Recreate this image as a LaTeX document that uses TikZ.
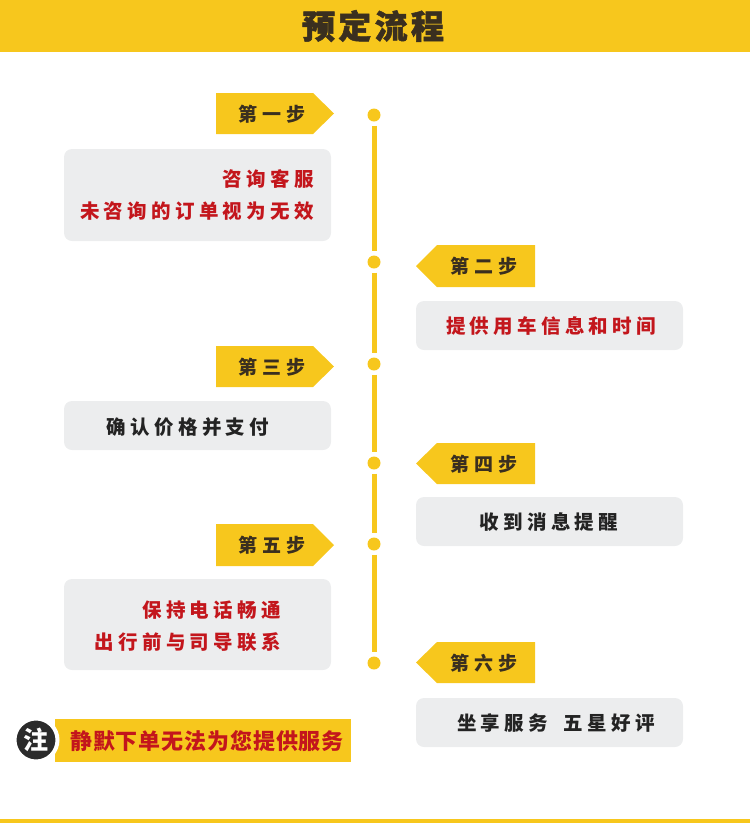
\documentclass[tikz,border=0pt]{standalone}
\usepackage{fontspec}
\setmainfont{Noto Sans CJK SC}
\definecolor{ylw}{HTML}{F7C71D}
\definecolor{tagtxt}{HTML}{3A2F1F}
\definecolor{redtxt}{HTML}{C3161C}
\definecolor{darktxt}{HTML}{232323}
\definecolor{boxgray}{HTML}{ECEDEE}
\definecolor{notedark}{HTML}{2B2B2B}
\tikzset{
  dot/.style={circle,fill=ylw,inner sep=0pt,minimum size=13pt},
  seg/.style={draw=ylw,line width=5pt,shorten <=4pt,shorten >=4pt},
  tagshape/.style={fill=ylw},
  tagtext/.style={inner sep=0pt,text=tagtxt,font=\fontsize{19}{22}\selectfont\bfseries\addfontfeature{LetterSpace=24}},
  infobox/.style={fill=boxgray,rounded corners=8pt,inner sep=0pt},
  redline/.style={inner sep=0pt,text=redtxt,font=\fontsize{19.5}{32}\selectfont\bfseries\addfontfeature{LetterSpace=22}},
  darkline/.style={inner sep=0pt,text=darktxt,font=\fontsize{19.5}{32}\selectfont\bfseries\addfontfeature{LetterSpace=22}},
}
\begin{document}
\begin{tikzpicture}[x=1pt,y=-1pt]
\useasboundingbox (0,0) rectangle (750,823);
% header
\fill[ylw] (0,0) rectangle (750,52);
\node[inner sep=0pt,text=tagtxt,font=\fontsize{33}{36}\selectfont\bfseries\addfontfeature{LetterSpace=10,FakeBold=1.5}] (title) at (373,26) {预定流程};
% bottom rule
\fill[ylw] (0,819) rectangle (750,823);
% timeline dots
\node[dot] (d1) at (374,115) {};
\node[dot] (d2) at (374,262) {};
\node[dot] (d3) at (374,364) {};
\node[dot] (d4) at (374,463) {};
\node[dot] (d5) at (374,544) {};
\node[dot] (d6) at (374,663) {};
\draw[seg] (d1) -- (d2);
\draw[seg] (d2) -- (d3);
\draw[seg] (d3) -- (d4);
\draw[seg] (d4) -- (d5);
\draw[seg] (d5) -- (d6);
% left tags
\fill[tagshape] (216,93) -- (313,93) -- (334,113.5) -- (313,134) -- (216,134) -- cycle;
\node[tagtext] (t1) at (272,114) {第一步};
\fill[tagshape] (216,346) -- (313,346) -- (334,366.5) -- (313,387) -- (216,387) -- cycle;
\node[tagtext] (t3) at (272,367) {第三步};
\fill[tagshape] (216,524) -- (313,524) -- (334,545) -- (313,566) -- (216,566) -- cycle;
\node[tagtext] (t5) at (272,545) {第五步};
% right tags
\fill[tagshape] (535,245) -- (437,245) -- (416,266) -- (437,287) -- (535,287) -- cycle;
\node[tagtext] (t2) at (484,266) {第二步};
\fill[tagshape] (535,443) -- (437,443) -- (416,463.5) -- (437,484) -- (535,484) -- cycle;
\node[tagtext] (t4) at (484,464) {第四步};
\fill[tagshape] (535,642) -- (437,642) -- (416,662.5) -- (437,683) -- (535,683) -- cycle;
\node[tagtext] (t6) at (484,663) {第六步};
% boxes
\fill[infobox] (64,149) rectangle (331,241);
\node[redline,anchor=east,align=right] (x1) at (314,195) {咨询客服\\未咨询的订单视为无效};
\fill[infobox] (416,301) rectangle (683,350);
\node[redline] (x2) at (551,326) {提供用车信息和时间};
\fill[infobox] (64,401) rectangle (331,450);
\node[darkline] (x3) at (188,427) {确认价格并支付};
\fill[infobox] (416,497) rectangle (683,546);
\node[darkline] (x4) at (549,522) {收到消息提醒};
\fill[infobox] (64,579) rectangle (331,670);
\node[redline,anchor=east,align=right] (x5) at (281,626) {保持电话畅通\\出行前与司导联系};
\fill[infobox] (416,698) rectangle (683,747);
\node[darkline] (x6) at (556,723) {坐享服务\hspace{16pt}五星好评};
% note
\fill[ylw] (55,719) rectangle (351,762);
\node[circle,fill=notedark,draw=white,line width=4pt,minimum size=43pt,inner sep=0pt,text=white,font=\fontsize{25}{28}\selectfont\bfseries] (n0) at (36,740) {注};
\node[inner sep=0pt,text=redtxt,font=\fontsize{22}{24}\selectfont\bfseries\addfontfeature{LetterSpace=4}] (n1) at (207,741) {静默下单无法为您提供服务};
\end{tikzpicture}
\end{document}
